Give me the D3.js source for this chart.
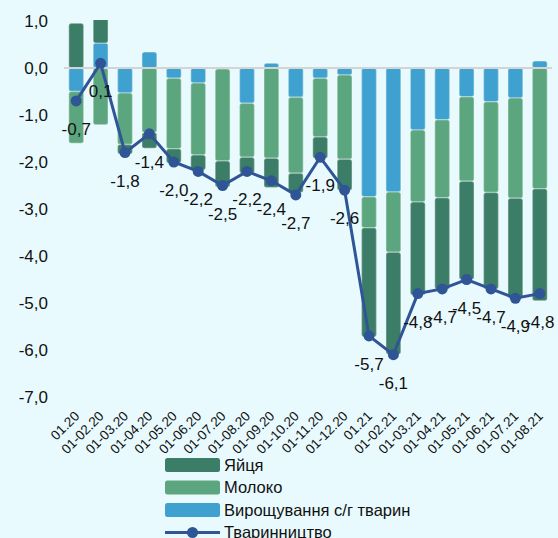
<!DOCTYPE html>
<html>
<head>
<meta charset="utf-8">
<script src="https://cdn.jsdelivr.net/npm/d3@7"></script>
<style>
  html, body { margin: 0; padding: 0; background: #e8fafd; }
  svg { display: block; font-family: "Liberation Sans", Arial, sans-serif; }
</style>
</head>
<body>
<div id="chart"></div>
<script>
const categories = ['01.20', '01-02.20', '01-03.20', '01-04.20', '01-05.20', '01-06.20', '01-07.20',
  '01-08.20', '01-09.20', '01-10.20', '01-11.20', '01-12.20', '01.21', '01-02.21', '01-03.21',
  '01-04.21', '01-05.21', '01-06.21', '01-07.21', '01-08.21']

// Яйця
const eggs = [0.95, 0.78, -0.2, -0.34, -0.3, -0.32, -0.55, -0.34, -0.62, -0.41,
  -0.45, -0.66, -2.32, -2.17, -1.98, -1.95, -2.09, -2.05, -2.13, -2.38]
// Молоко
const milk = [-1.1, -1.21, -1.1, -1.37, -1.5, -1.53, -1.96, -1.15, -1.92, -1.62,
  -1.25, -1.79, -0.66, -1.28, -1.53, -1.66, -1.8, -1.93, -2.13, -2.57]
// Вирощування с/г тварин
const growing = [-0.5, 0.53, -0.53, 0.34, -0.22, -0.32, -0.02, -0.75, 0.1, -0.62,
  -0.22, -0.15, -2.74, -2.64, -1.32, -1.1, -0.61, -0.72, -0.64, 0.15]
// Тваринництво
const livestock = [-0.7, 0.1, -1.8, -1.4, -2.0, -2.2, -2.5, -2.2, -2.4, -2.7,
  -1.9, -2.6, -5.7, -6.1, -4.8, -4.7, -4.5, -4.7, -4.9, -4.8]

const yTicks = [1, 0, -1, -2, -3, -4, -5, -6, -7]

const width = 558
const height = 538

const colors = {
  eggs: '#3b7d66',
  milk: '#5ba67e',
  growing: '#3fa1cf',
  line: '#2f5597'
}

const rows = categories.map((c, i) => ({
  cat: c,
  growing: growing[i],
  milk: milk[i],
  eggs: eggs[i]
}))

const fmt = d => d3.format('.1f')(d).replace('.', ',').replace('−', '-')

const svg = d3.select('#chart').append('svg')
  .attr('width', width)
  .attr('height', height)

svg.append('rect')
  .attr('width', width)
  .attr('height', height)
  .attr('fill', '#e8fafd')

const x = d3.scaleBand()
  .domain(categories)
  .range([64, 552])
  .paddingInner(0.39)
  .paddingOuter(0.195)

const y = d3.scaleLinear()
  .domain([-7, 1])
  .range([397, 21])

svg.append('defs').append('clipPath')
  .attr('id', 'plot-clip')
  .append('rect')
  .attr('x', 60)
  .attr('y', y(1) - 1)
  .attr('width', 500)
  .attr('height', y(-7) - y(1) + 10)

// y-axis labels
const yAxis = d3.axisLeft(y)
  .tickValues(yTicks)
  .tickSize(0)
  .tickPadding(0)
  .tickFormat(fmt)

svg.append('g')
  .attr('transform', 'translate(48,0)')
  .call(yAxis)
  .call(g => g.select('.domain').remove())
  .selectAll('text')
  .attr('font-size', 17)
  .attr('fill', '#111')
  .attr('font-family', '"Liberation Sans", Arial, sans-serif')

// stacked bars
const stack = d3.stack()
  .keys(['growing', 'milk', 'eggs'])
  .offset(d3.stackOffsetDiverging)

const series = stack(rows)

const barGroup = svg.append('g').attr('clip-path', 'url(#plot-clip)')

barGroup.selectAll('g')
  .data(series)
  .enter()
  .append('g')
  .attr('fill', d => colors[d.key])
  .selectAll('rect')
  .data(d => d)
  .enter()
  .append('rect')
  .attr('x', d => x(d.data.cat))
  .attr('width', x.bandwidth())
  .attr('y', d => y(Math.max(d[0], d[1])))
  .attr('height', d => Math.abs(y(d[0]) - y(d[1])))
  .attr('rx', 2.5)
  .attr('stroke', '#ffffff')
  .attr('stroke-opacity', 0.3)
  .attr('stroke-width', 1.5)

// zero line
svg.append('line')
  .attr('x1', 64)
  .attr('x2', 552)
  .attr('y1', y(0))
  .attr('y2', y(0))
  .attr('stroke', '#d4d4d4')
  .attr('stroke-width', 2)

// x-axis labels
svg.append('g')
  .selectAll('text')
  .data(categories)
  .enter()
  .append('text')
  .attr('transform', d => `translate(${x(d) + x.bandwidth() / 2 + 4}, 417) rotate(-45)`)
  .attr('text-anchor', 'end')
  .attr('font-size', 13.5)
  .attr('fill', '#111')
  .text(d => d)

// line
const cx = i => x(categories[i]) + x.bandwidth() / 2

const line = d3.line()
  .x((d, i) => cx(i))
  .y(d => y(d))

svg.append('path')
  .datum(livestock)
  .attr('d', line)
  .attr('fill', 'none')
  .attr('stroke', colors.line)
  .attr('stroke-width', 3)

svg.append('g')
  .selectAll('circle')
  .data(livestock)
  .enter()
  .append('circle')
  .attr('cx', (d, i) => cx(i))
  .attr('cy', d => y(d))
  .attr('r', 5.5)
  .attr('fill', colors.line)

// data labels
svg.append('g')
  .selectAll('text')
  .data(livestock)
  .enter()
  .append('text')
  .attr('x', (d, i) => cx(i))
  .attr('y', d => y(d) + 34)
  .attr('text-anchor', 'middle')
  .attr('font-size', 17)
  .attr('fill', '#111')
  .text(fmt)

// legend
const legendItems = [
  { key: 'eggs', label: 'Яйця', type: 'rect' },
  { key: 'milk', label: 'Молоко', type: 'rect' },
  { key: 'growing', label: 'Вирощування с/г тварин', type: 'rect' },
  { key: 'line', label: 'Тваринництво', type: 'line' }
]

const legend = svg.append('g')
  .attr('transform', 'translate(165, 458)')

const item = legend.selectAll('g')
  .data(legendItems)
  .enter()
  .append('g')
  .attr('transform', (d, i) => `translate(0, ${i * 22.5})`)

item.filter(d => d.type === 'rect')
  .append('rect')
  .attr('width', 55)
  .attr('height', 14)
  .attr('rx', 2.5)
  .attr('fill', d => colors[d.key])

const lineItem = item.filter(d => d.type === 'line')

lineItem.append('line')
  .attr('x1', 0)
  .attr('x2', 55)
  .attr('y1', 7)
  .attr('y2', 7)
  .attr('stroke', colors.line)
  .attr('stroke-width', 3)

lineItem.append('circle')
  .attr('cx', 27.5)
  .attr('cy', 7)
  .attr('r', 5.5)
  .attr('fill', colors.line)

item.append('text')
  .attr('x', 59)
  .attr('y', 7)
  .attr('dy', '0.35em')
  .attr('font-size', 16.5)
  .attr('fill', '#111')
  .text(d => d.label)
</script>
</body>
</html>
